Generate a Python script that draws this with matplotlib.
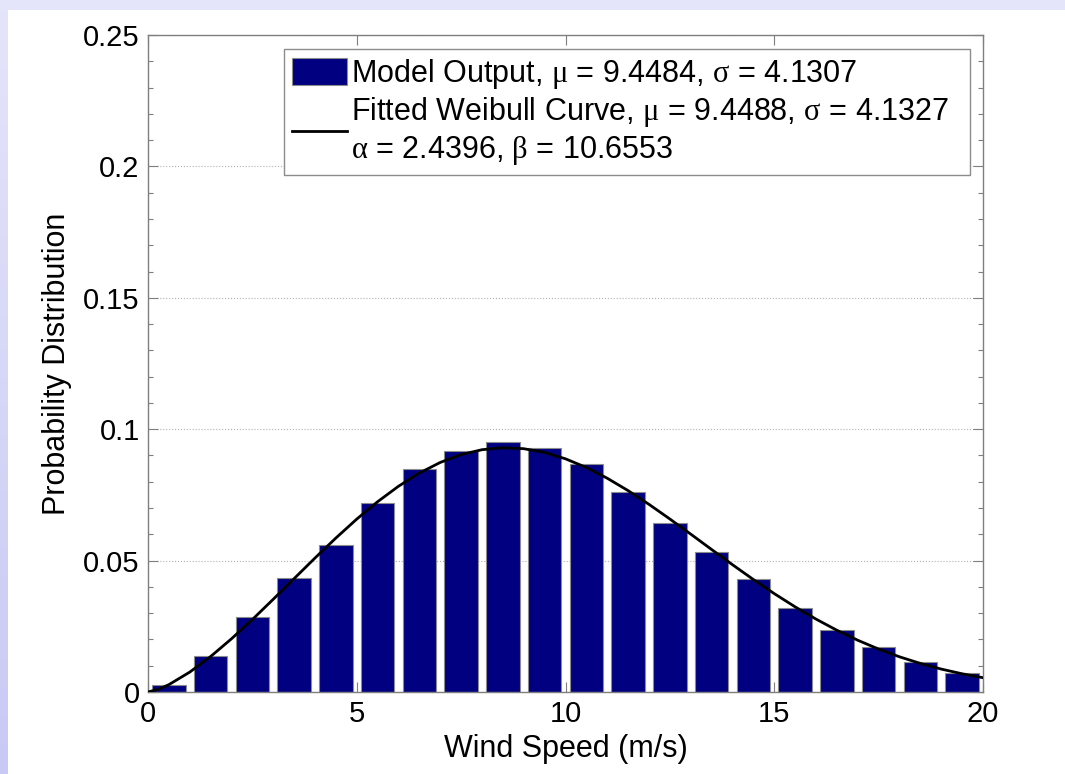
import numpy as np
import matplotlib
matplotlib.use("Agg")
import matplotlib.pyplot as plt
from matplotlib.patches import Rectangle
from matplotlib.ticker import MultipleLocator
from matplotlib.colors import LinearSegmentedColormap

# wind speed bins (bar centres, m/s) and model output probability
bin_centers = [0.5, 1.5, 2.5, 3.5, 4.5, 5.5, 6.5, 7.5, 8.5, 9.5,
               10.5, 11.5, 12.5, 13.5, 14.5, 15.5, 16.5, 17.5, 18.5, 19.5]
model_prob = [0.0027, 0.0137, 0.0284, 0.0433, 0.0558, 0.0719, 0.0850, 0.0917, 0.0953, 0.0930,
              0.0866, 0.0762, 0.0644, 0.0532, 0.0431, 0.0318, 0.0236, 0.0170, 0.0115, 0.0073]

# fitted Weibull curve
curve_x = [0, 0.25, 0.5, 1, 1.5, 2, 2.5, 3, 3.5, 4, 4.5, 5, 5.5, 6, 6.5, 7, 7.5, 8, 8.5, 9, 9.5,
           10, 10.5, 11, 11.5, 12, 12.5, 13, 13.5, 14, 14.5, 15, 15.5, 16, 16.5, 17, 17.5,
           18, 18.5, 19, 19.5, 20]
curve_y = [0.0, 0.00103, 0.00280, 0.00757, 0.01350, 0.02025, 0.02759, 0.03529, 0.04315, 0.05098,
           0.05859, 0.06579, 0.07241, 0.07829, 0.08331, 0.08735, 0.09033, 0.09220, 0.09295,
           0.09258, 0.09115, 0.08873, 0.08542, 0.08134, 0.07662, 0.07140, 0.06583, 0.06007,
           0.05422, 0.04843, 0.04280, 0.03744, 0.03240, 0.02774, 0.02350, 0.01970, 0.01633,
           0.01339, 0.01087, 0.00872, 0.00693, 0.00544]

bar_label = "Model Output, $\\mathrm{\\mu}$ = 9.4484, $\\mathrm{\\sigma}$ = 4.1307"
curve_label = ("Fitted Weibull Curve, $\\mathrm{\\mu}$ = 9.4488, $\\mathrm{\\sigma}$ = 4.1327\n"
               "$\\mathrm{\\alpha}$ = 2.4396, $\\mathrm{\\beta}$ = 10.6553")

plt.rcParams['font.family'] = ['Liberation Sans', 'DejaVu Sans']
plt.rcParams['mathtext.fontset'] = 'custom'
plt.rcParams['mathtext.rm'] = 'Liberation Serif'
plt.rcParams['mathtext.it'] = 'Liberation Serif'

W, H = 1065, 774
fig = plt.figure(figsize=(W / 100, H / 100), dpi=100, facecolor='white')

# slide background strips (lavender)
grad_ax = fig.add_axes([0, 0, 8 / W, 1 - 10 / H], zorder=5)
cmap = LinearSegmentedColormap.from_list('slide', ['#c9c9f5', '#e4e4fa'])
grad_ax.imshow(np.linspace(0, 1, 256).reshape(-1, 1), aspect='auto', cmap=cmap, origin='lower')
grad_ax.axis('off')
fig.patches.append(Rectangle((0, 1 - 10 / H), 1, 10 / H, transform=fig.transFigure,
                             facecolor='#e4e4fa', edgecolor='none', zorder=6))

ax = fig.add_axes([148 / W, 1 - 692 / H, (983 - 148) / W, (692 - 35) / H])
bars = ax.bar(bin_centers, model_prob, width=0.8, color='#000080', edgecolor='#8c8c8c',
              linewidth=0.8, label=bar_label, zorder=2)
line, = ax.plot(curve_x, curve_y, color='black', linewidth=2.0, label=curve_label, zorder=3)

ax.set_xlim(0, 20)
ax.set_ylim(0, 0.25)
ax.set_xticks([0, 5, 10, 15, 20])
ax.set_yticks([0, 0.05, 0.1, 0.15, 0.2, 0.25])
ax.set_yticklabels(['0', '0.05', '0.1', '0.15', '0.2', '0.25'])
ax.yaxis.set_minor_locator(MultipleLocator(0.01))
ax.tick_params(which='both', direction='in', top=True, right=True, colors='#7f7f7f',
               labelcolor='black', labelsize=21)
ax.tick_params(which='major', length=7, width=0.8)
ax.tick_params(which='minor', length=3.5, width=0.8)
ax.tick_params(axis='x', pad=6)
ax.tick_params(axis='y', pad=6)
for sp in ax.spines.values():
    sp.set_color('#7f7f7f')
    sp.set_linewidth(1.0)
ax.yaxis.grid(True, which='major', linestyle=':', color='#b0b0b0', linewidth=0.8)
ax.set_axisbelow(True)

ax.set_xlabel('Wind Speed (m/s)', fontsize=22, labelpad=4)
ax.set_ylabel('Probability Distribution', fontsize=22, labelpad=8)

leg_top = 1 - 14 / 657
leg = ax.legend([bars, line], [bar_label, curve_label], loc='upper left',
                bbox_to_anchor=((284 - 148) / 835, leg_top - 0.1, (970 - 284) / 835, 0.1),
                mode='expand', fontsize=22, frameon=True, fancybox=False, borderaxespad=0,
                handlelength=1.8, handleheight=1.0, handletextpad=0.15, labelspacing=0.15,
                borderpad=0.25)
leg.get_frame().set_edgecolor('#8c8c8c')
leg.get_frame().set_linewidth(1.0)
leg.get_frame().set_alpha(1)

fig.savefig('out.png', dpi=100, facecolor='white')
